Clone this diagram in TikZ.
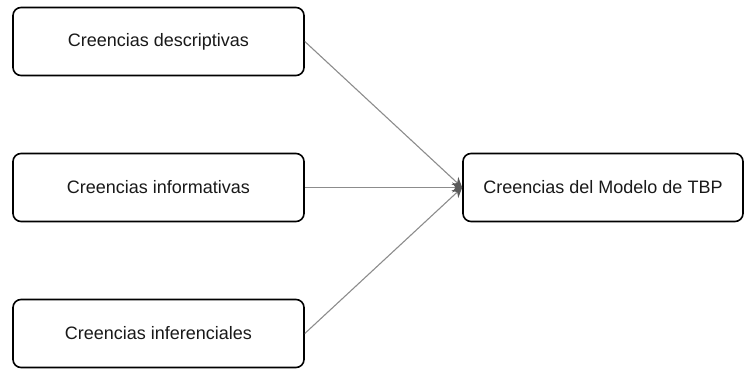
\documentclass[tikz,border=0pt]{standalone}
\usepackage{fontspec}
\setmainfont{Liberation Sans}
\usetikzlibrary{arrows.meta}
\begin{document}
\begin{tikzpicture}[x=1pt,y=1pt,
  belief/.style={draw=black, line width=1.6pt, rounded corners=8pt, fill=white,
    minimum width=291pt, minimum height=68pt, inner sep=0pt,
    font=\fontsize{18}{22}\selectfont, text=black!90},
  link/.style={draw=black!45, line width=1.1pt,
    -{Stealth[length=10pt,width=10pt,fill=black!65,color=black!65]}}]
  \useasboundingbox (0,0) rectangle (745,369);
  \node[belief] (desc) at (158.5,327.5) {Creencias descriptivas};
  \node[belief] (info) at (158.5,181.5) {Creencias informativas};
  \node[belief] (infe) at (158.5,35.5) {Creencias inferenciales};
  \node[belief, minimum width=280pt] (tbp) at (603,181.5) {Creencias del Modelo de TBP};
  \draw[link] (desc.east) -- (tbp.west);
  \draw[link] (info.east) -- (tbp.west);
  \draw[link] (infe.east) -- (tbp.west);
\end{tikzpicture}
\end{document}
